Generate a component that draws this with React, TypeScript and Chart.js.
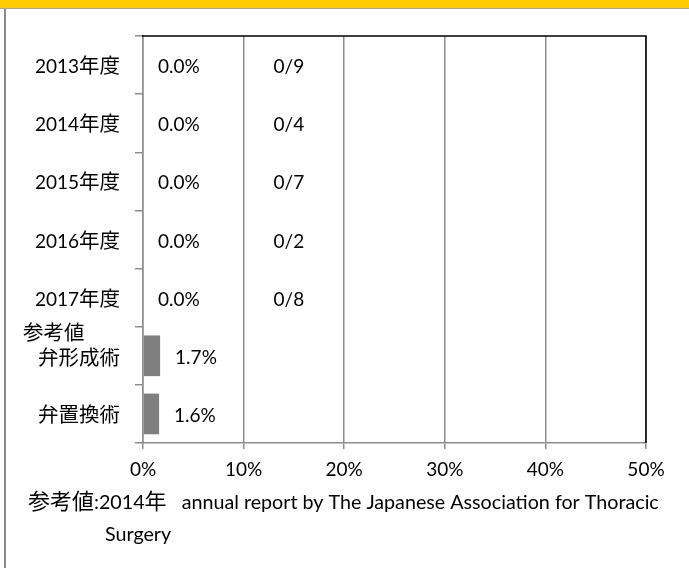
import React, { useEffect, useRef } from "react";
import { Chart, registerables } from "chart.js";

Chart.register(...registerables);

// ---- data ----
const categories: (string | string[])[] = [
  "2013年度",
  "2014年度",
  "2015年度",
  "2016年度",
  "2017年度",
  ["参考値", "弁形成術"],
  "弁置換術",
];
const values = [0, 0, 0, 0, 0, 1.7, 1.6];
const valueLabels = ["0.0%", "0.0%", "0.0%", "0.0%", "0.0%", "1.7%", "1.6%"];
const countLabels = ["0/9", "0/4", "0/7", "0/2", "0/8", "", ""];
const xMin = 0;
const xMax = 50;
const xStep = 10;
const footnoteLines = [
  "参考値:2014年   annual report by The Japanese Association for Thoracic",
  "Surgery",
];

// ---- style ----
const LATIN = "Lato";
const CJKF = "'Noto Sans CJK JP'";
const CJK_RE = /[\u3000-\u30ff\u3400-\u9fff\uff00-\uffef]/;

function splitRuns(text: string) {
  const runs: { t: string; cjk: boolean }[] = [];
  for (const ch of text) {
    const cjk = CJK_RE.test(ch);
    const last = runs[runs.length - 1];
    if (last && last.cjk === cjk) last.t += ch;
    else runs.push({ t: ch, cjk });
  }
  return runs;
}

function drawMixed(
  ctx: CanvasRenderingContext2D,
  text: string,
  x: number,
  baseline: number,
  align: "left" | "right" | "center",
  latinSize = 19,
  cjkSize = 20.5
) {
  const runs = splitRuns(text).map((r) => {
    const font = r.cjk ? `${cjkSize}px ${CJKF}` : `${latinSize}px ${LATIN}, ${CJKF}`;
    ctx.font = font;
    return { ...r, font, w: ctx.measureText(r.t).width };
  });
  const total = runs.reduce((s, r) => s + r.w, 0);
  let cx = align === "right" ? x - total : align === "center" ? x - total / 2 : x;
  ctx.textAlign = "left";
  ctx.textBaseline = "alphabetic";
  ctx.fillStyle = "#000";
  for (const r of runs) {
    ctx.font = r.font;
    ctx.fillText(r.t, cx, baseline);
    cx += r.w;
  }
}

const labelPlugin = {
  id: "labels",
  afterDraw(chart: any) {
    const { ctx, chartArea, scales } = chart;
    const xs = scales.x;
    const ys = scales.y;
    ctx.save();
    // black top & right frame
    ctx.strokeStyle = "#000";
    ctx.lineWidth = 1.5;
    ctx.beginPath();
    ctx.moveTo(chartArea.left - 1, chartArea.top);
    ctx.lineTo(chartArea.right, chartArea.top);
    ctx.lineTo(chartArea.right, chartArea.bottom);
    ctx.stroke();

    // category labels
    const labelRight = chartArea.left - 23;
    categories.forEach((c, i) => {
      const yc = ys.getPixelForValue(i);
      if (Array.isArray(c)) {
        drawMixed(ctx, c[0], 23, yc - 16, "left");
        drawMixed(ctx, c[1], labelRight, yc + 9, "right");
      } else {
        drawMixed(ctx, c, labelRight, yc + 8, "right");
      }
    });

    // value labels
    values.forEach((v, i) => {
      const yc = ys.getPixelForValue(i);
      drawMixed(ctx, valueLabels[i], xs.getPixelForValue(v) + 15, yc + 8, "left");
      if (countLabels[i]) {
        drawMixed(ctx, countLabels[i], xs.getPixelForValue(14.5), yc + 8, "center");
      }
    });

    // footnote
    drawMixed(ctx, footnoteLines[0], 28, 509, "left", 19.7, 22);
    drawMixed(ctx, footnoteLines[1], 105, 541, "left", 19.7, 22);
    ctx.restore();
  },
};

export default function App() {
  const ref = useRef<HTMLCanvasElement>(null);
  useEffect(() => {
    document.body.style.margin = "0";
    const chart = new Chart(ref.current!, {
      type: "bar",
      data: {
        labels: categories as any,
        datasets: [
          {
            data: values,
            backgroundColor: "#7f7f7f",
            barPercentage: 0.7,
            categoryPercentage: 1,
          },
        ],
      },
      options: {
        indexAxis: "y",
        animation: false,
        responsive: false,
        layout: { padding: { top: 36, right: 43, left: 0, bottom: 0 } },
        plugins: { legend: { display: false }, tooltip: { enabled: false } },
        scales: {
          x: {
            min: xMin,
            max: xMax,
            ticks: {
              stepSize: xStep,
              callback: (v: any) => v + "%",
              color: "#000",
              font: { family: LATIN, size: 19 },
              padding: 9,
            },
            grid: { color: "#8c8c8c", lineWidth: 1.5, tickLength: 6 },
            border: { color: "#8c8c8c", width: 1.5 },
            afterFit: (s: any) => {
              s.height = 125;
            },
          },
          y: {
            ticks: { display: false },
            grid: {
              drawOnChartArea: false,
              tickLength: 8,
              color: "#8c8c8c",
              lineWidth: 1.5,
              offset: true,
            },
            border: { color: "#8c8c8c", width: 1.5 },
            afterFit: (s: any) => {
              s.width = 143;
            },
          },
        },
      },
      plugins: [labelPlugin],
    } as any);
    return () => chart.destroy();
  }, []);

  return (
    <div style={{ position: "relative", width: 689, height: 568, background: "#fff", overflow: "hidden" }}>
      <canvas ref={ref} width={689} height={568} style={{ position: "absolute", left: 0, top: 0 }} />
      <div style={{ position: "absolute", left: 0, top: 0, width: 689, height: 8, background: "#ffcc00" }} />
      <div style={{ position: "absolute", left: 0, top: 8, width: 689, height: 1, background: "#a6a6a6" }} />
      <div style={{ position: "absolute", left: 4, top: 9, width: 2, height: 559, background: "#8c8c8c" }} />
    </div>
  );
}
